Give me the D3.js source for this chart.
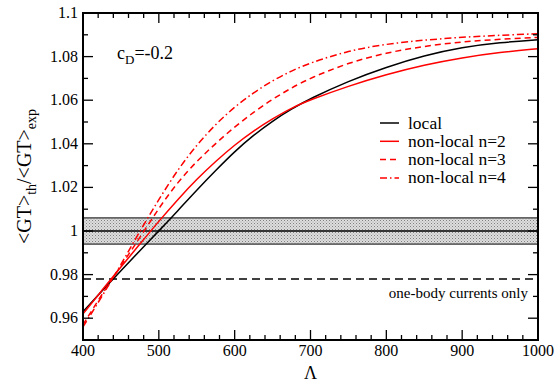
<!DOCTYPE html>
<html>
<head>
<meta charset="utf-8">
<script src="https://cdn.jsdelivr.net/npm/d3@7"></script>
<style>
  body { margin: 0; background: #fff; }
  text { font-family: "Liberation Serif", "DejaVu Serif", serif; }
</style>
</head>
<body>
<div id="chart"></div>
<script>
// cutoff values (x)
var lambdas = [400, 425, 450, 475, 500, 525, 550, 575, 600, 625, 650, 675, 700, 750, 800, 850, 900, 950, 1000];

// <GT>_th/<GT>_exp for each curve
var localVals = [0.963, 0.9725, 0.9818, 0.991, 1.000, 1.0093, 1.0188, 1.0278, 1.0365, 1.044, 1.0505, 1.056, 1.0608, 1.0688, 1.0752, 1.0805, 1.0843, 1.0865, 1.0877];
var nl2Vals = [0.962, 0.9728, 0.9835, 0.994, 1.0045, 1.0145, 1.0238, 1.032, 1.0395, 1.046, 1.0515, 1.0565, 1.0602, 1.0665, 1.0718, 1.0762, 1.0795, 1.082, 1.0836];
var nl3Vals = [0.957, 0.971, 0.984, 0.997, 1.0105, 1.0225, 1.032, 1.0402, 1.0478, 1.0545, 1.0605, 1.0657, 1.0702, 1.0772, 1.0818, 1.0848, 1.0868, 1.088, 1.0888];
var nl4Vals = [0.956, 0.970, 0.9845, 1.000, 1.0145, 1.0282, 1.0395, 1.049, 1.057, 1.0635, 1.069, 1.0735, 1.0772, 1.0827, 1.0858, 1.0876, 1.0889, 1.0898, 1.0905];

// experimental band and one-body result
var expBand = [0.994, 1.006];
var expValue = 1.0;
var oneBody = 0.978;

var xTicks = [400, 500, 600, 700, 800, 900, 1000];
var yTicks = [0.96, 0.98, 1, 1.02, 1.04, 1.06, 1.08, 1.1];

var series = [
  { label: 'local', vals: localVals, color: '#000', dash: null },
  { label: 'non-local n=2', vals: nl2Vals, color: '#ff0000', dash: null },
  { label: 'non-local n=3', vals: nl3Vals, color: '#ff0000', dash: '6,4' },
  { label: 'non-local n=4', vals: nl4Vals, color: '#ff0000', dash: '7,3,1.5,3' }
];

var width = 557;
var height = 383;
var margin = { top: 13, right: 19, bottom: 43, left: 83 };
var w = width - margin.left - margin.right;
var h = height - margin.top - margin.bottom;

var x = d3.scaleLinear().domain([400, 1000]).range([0, w]);
var y = d3.scaleLinear().domain([0.95, 1.1]).range([h, 0]);

var svg = d3.select('#chart').append('svg')
  .attr('width', width).attr('height', height)
  .attr('font-family', '"Liberation Serif", "DejaVu Serif", serif');

// dotted fill for the experimental band
var defs = svg.append('defs');
var pat = defs.append('pattern').attr('id', 'dots')
  .attr('width', 3).attr('height', 3).attr('patternUnits', 'userSpaceOnUse');
pat.append('rect').attr('width', 3).attr('height', 3).attr('fill', '#dedede');
pat.append('rect').attr('width', 1).attr('height', 1).attr('fill', '#808080');
pat.append('rect').attr('x', 1.5).attr('y', 1.5).attr('width', 1).attr('height', 1).attr('fill', '#a0a0a0');

defs.append('clipPath').attr('id', 'plotClip')
  .append('rect').attr('width', w).attr('height', h);

var g = svg.append('g').attr('transform', 'translate(' + margin.left + ',' + margin.top + ')');

// band
g.append('rect')
  .attr('x', 0).attr('width', w)
  .attr('y', y(expBand[1])).attr('height', y(expBand[0]) - y(expBand[1]))
  .attr('fill', 'url(#dots)');
expBand.concat([expValue]).forEach(function(v) {
  g.append('line')
    .attr('x1', 0).attr('x2', w)
    .attr('y1', y(v)).attr('y2', y(v))
    .attr('stroke', '#000').attr('stroke-width', v === expValue ? 1.5 : 1);
});

// one-body currents only
g.append('line')
  .attr('x1', 0).attr('x2', w)
  .attr('y1', y(oneBody)).attr('y2', y(oneBody))
  .attr('stroke', '#000').attr('stroke-width', 1.5).attr('stroke-dasharray', '8,5');
g.append('text')
  .attr('x', w - 10).attr('y', y(oneBody) + 19)
  .attr('text-anchor', 'end').attr('font-size', 15)
  .text('one-body currents only');

// curves
var line = d3.line()
  .x(function(d) { return x(d[0]); })
  .y(function(d) { return y(d[1]); })
  .curve(d3.curveBasis);

var curveLayer = g.append('g').attr('clip-path', 'url(#plotClip)');
series.forEach(function(s) {
  curveLayer.append('path')
    .datum(lambdas.map(function(l, i) { return [l, s.vals[i]]; }))
    .attr('d', line)
    .attr('fill', 'none')
    .attr('stroke', s.color)
    .attr('stroke-width', 1.5)
    .attr('stroke-dasharray', s.dash);
});

// frame and inward ticks on all four sides
var xMinor = d3.range(400, 1001, 20);
var yMinor = d3.range(0.95, 1.1001, 0.01);
function tick(x1, y1, x2, y2) {
  g.append('line').attr('x1', x1).attr('y1', y1).attr('x2', x2).attr('y2', y2)
    .attr('stroke', '#000').attr('stroke-width', 1.3);
}
xMinor.forEach(function(v) {
  var len = (v % 100 === 0) ? 10 : 5;
  tick(x(v), h, x(v), h - len);
  tick(x(v), 0, x(v), len);
});
yMinor.forEach(function(v) {
  var major = Math.abs(Math.round(v * 50) - v * 50) < 1e-6;
  var len = major ? 10 : 5;
  tick(0, y(v), len, y(v));
  tick(w, y(v), w - len, y(v));
});
g.append('rect').attr('width', w).attr('height', h)
  .attr('fill', 'none').attr('stroke', '#000').attr('stroke-width', 2);

// tick labels
g.selectAll('.xlab').data(xTicks).enter().append('text')
  .attr('x', function(d) { return x(d); }).attr('y', h + 16)
  .attr('text-anchor', 'middle').attr('font-size', 16)
  .text(function(d) { return d; });
g.selectAll('.ylab').data(yTicks).enter().append('text')
  .attr('x', -5).attr('y', function(d) { return y(d) + 5; })
  .attr('text-anchor', 'end').attr('font-size', 16)
  .text(function(d) { return d3.format('')(+d.toFixed(2)); });

// axis titles
g.append('text')
  .attr('x', w / 2).attr('y', h + 39)
  .attr('text-anchor', 'middle').attr('font-size', 18)
  .text('Λ');
var yt = svg.append('text')
  .attr('transform', 'translate(31,' + (margin.top + h / 2) + ') rotate(-90)')
  .attr('text-anchor', 'middle').attr('font-size', 20);
yt.append('tspan').text('<GT>');
yt.append('tspan').attr('font-size', 14).attr('dy', 5).text('th');
yt.append('tspan').attr('dy', -5).text('/<GT>');
yt.append('tspan').attr('font-size', 14).attr('dy', 5).text('exp');

// c_D label
var cd = g.append('text').attr('x', 34).attr('y', 46).attr('font-size', 18);
cd.append('tspan').text('c');
cd.append('tspan').attr('font-size', 13).attr('dy', 5).text('D');
cd.append('tspan').attr('dy', -5).text('=-0.2');

// legend
var legend = g.append('g').attr('transform', 'translate(297,110)');
series.forEach(function(s, i) {
  var ly = i * 18.3;
  legend.append('line')
    .attr('x1', 0).attr('x2', 19).attr('y1', ly).attr('y2', ly)
    .attr('stroke', s.color).attr('stroke-width', 1.5)
    .attr('stroke-dasharray', s.dash);
  legend.append('text')
    .attr('x', 28).attr('y', ly + 5.5)
    .attr('font-size', 17.5)
    .text(s.label);
});
</script>
</body>
</html>
